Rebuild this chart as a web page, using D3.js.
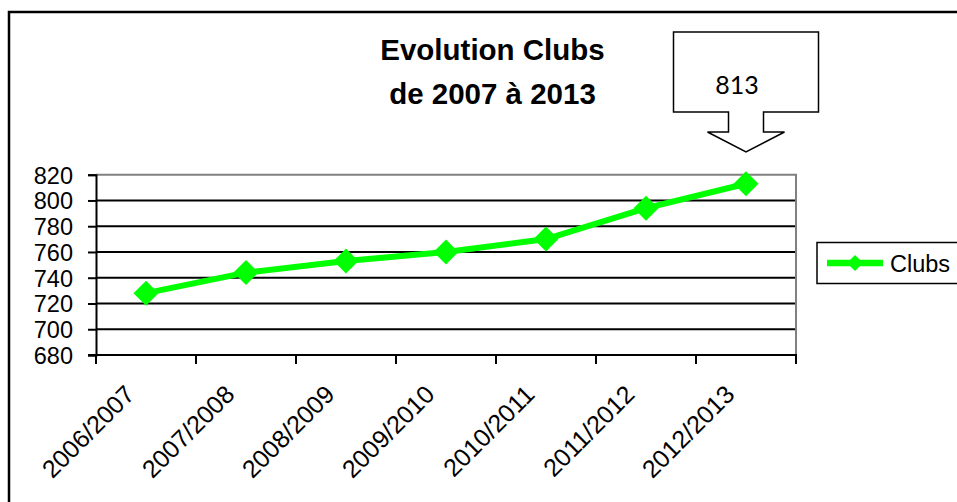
<!DOCTYPE html>
<html><head><meta charset="utf-8">
<script src="https://cdn.jsdelivr.net/npm/d3@7"></script>
<style>body{margin:0;background:#fff}svg{display:block}</style>
</head><body>
<script>
const categories = ["2006/2007","2007/2008","2008/2009","2009/2010","2010/2011","2011/2012","2012/2013"];
const clubs = [728, 744, 753, 760, 770, 794, 813];
const yTicks = [680,700,720,740,760,780,800,820];
const seriesName = "Clubs";
const titleLines = ["Evolution Clubs","de 2007 à 2013"];
const calloutValue = 813;

(function(){
const W=957,H=502;
const svg=d3.select("body").append("svg").attr("width",W).attr("height",H);
svg.append("rect").attr("width",W).attr("height",H).attr("fill","#fff");
// outer frame
svg.append("rect").attr("x",9).attr("y",12).attr("width",1100).attr("height",700)
  .attr("fill","none").attr("stroke","#000").attr("stroke-width",2.5);

const pLeft=96,pRight=796,pTop=174.7,pBottom=355;
const x=d3.scaleBand().domain(categories).range([pLeft,pRight]).padding(0);
const y=d3.scaleLinear().domain([680,820]).range([pBottom,pTop]);
const font="Arial, 'Liberation Sans', sans-serif";

// gridlines
svg.append("g").selectAll("line").data(yTicks.filter(t=>t>680&&t<820)).join("line")
  .attr("x1",pLeft).attr("x2",pRight).attr("y1",d=>y(d)).attr("y2",d=>y(d))
  .attr("stroke","#000").attr("stroke-width",2);
// plot border top & right (gray)
svg.append("line").attr("x1",pLeft).attr("x2",pRight+1).attr("y1",y(820)).attr("y2",y(820)).attr("stroke","#808080").attr("stroke-width",2);
svg.append("line").attr("x1",pRight).attr("x2",pRight).attr("y1",y(820)).attr("y2",pBottom).attr("stroke","#808080").attr("stroke-width",2);

// y axis
const yAxis=svg.append("g").attr("transform",`translate(${pLeft},0)`)
  .call(d3.axisLeft(y).tickValues(yTicks).tickSize(8).tickPadding(15).tickFormat(d3.format("d")));
yAxis.select(".domain").attr("stroke","#000").attr("stroke-width",2);
yAxis.selectAll(".tick line").attr("stroke","#000").attr("stroke-width",2);
yAxis.selectAll("text").attr("font-family",font).attr("font-size",23.5).attr("fill","#000").attr("dy","0.36em");

// x axis
svg.append("line").attr("x1",pLeft-8).attr("x2",pRight+1).attr("y1",pBottom).attr("y2",pBottom).attr("stroke","#000").attr("stroke-width",2);
const edges=categories.map(c=>x(c)).concat([pRight]);
svg.append("g").selectAll("line").data(edges).join("line")
  .attr("x1",d=>d).attr("x2",d=>d).attr("y1",pBottom).attr("y2",pBottom+9)
  .attr("stroke","#000").attr("stroke-width",2);
svg.append("g").selectAll("text").data(categories).join("text")
  .attr("transform",d=>`translate(${x(d)+x.bandwidth()/2-10},396) rotate(-45)`)
  .attr("text-anchor","end").attr("font-family",font).attr("font-size",25).attr("fill","#000")
  .text(d=>d);

// line series
const green="#00ff00";
const cx=d=>x(d)+x.bandwidth()/2;
svg.append("path").datum(categories.map((c,i)=>[cx(c),y(clubs[i])]))
  .attr("d",d3.line()).attr("fill","none").attr("stroke",green).attr("stroke-width",6).attr("stroke-linejoin","round");
const dm=12.5;
svg.append("g").selectAll("path").data(categories).join("path")
  .attr("d",(c,i)=>{const px=cx(c),py=y(clubs[i]);return `M${px},${py-dm}L${px+dm},${py}L${px},${py+dm}L${px-dm},${py}Z`;})
  .attr("fill",green);

// title
const tx=492.5;
svg.append("text").attr("x",tx).attr("y",59.5).attr("text-anchor","middle").attr("font-family",font)
  .attr("font-weight","bold").attr("font-size",29.5).text(titleLines[0]);
svg.append("text").attr("x",tx).attr("y",103.5).attr("text-anchor","middle").attr("font-family",font)
  .attr("font-weight","bold").attr("font-size",29.5).text(titleLines[1]);

// callout arrow pointing to last point
const lastX=cx(categories[categories.length-1]);
const bx0=lastX-72.5,bx1=lastX+72.5,by0=32,by1=112,sh=17.5,hh=38.5,sb=132,tip=152;
const pts=[[bx0,by0],[bx1,by0],[bx1,by1],[lastX+sh,by1],[lastX+sh,sb],[lastX+hh,sb],[lastX,tip],[lastX-hh,sb],[lastX-sh,sb],[lastX-sh,by1],[bx0,by1]];
svg.append("path").attr("d","M"+pts.map(p=>p.join(",")).join("L")+"Z")
  .attr("fill","#fff").attr("stroke","#000").attr("stroke-width",1.5);
svg.append("text").attr("x",lastX-9).attr("y",93.5).attr("text-anchor","middle")
  .attr("font-family","Lato, 'Open Sans', sans-serif").attr("font-size",25).text(calloutValue);

// legend
svg.append("rect").attr("x",817).attr("y",242.5).attr("width",200).attr("height",41)
  .attr("fill","#fff").attr("stroke","#000").attr("stroke-width",1.5);
svg.append("line").attr("x1",827).attr("x2",883).attr("y1",263).attr("y2",263).attr("stroke",green).attr("stroke-width",6.5);
const lx=855,ly=263,ld=8;
svg.append("path").attr("d",`M${lx},${ly-ld}L${lx+ld},${ly}L${lx},${ly+ld}L${lx-ld},${ly}Z`).attr("fill",green);
svg.append("text").attr("x",890).attr("y",271.5).attr("font-family",font).attr("font-size",23.5).text(seriesName);
})();
</script>
</body></html>
